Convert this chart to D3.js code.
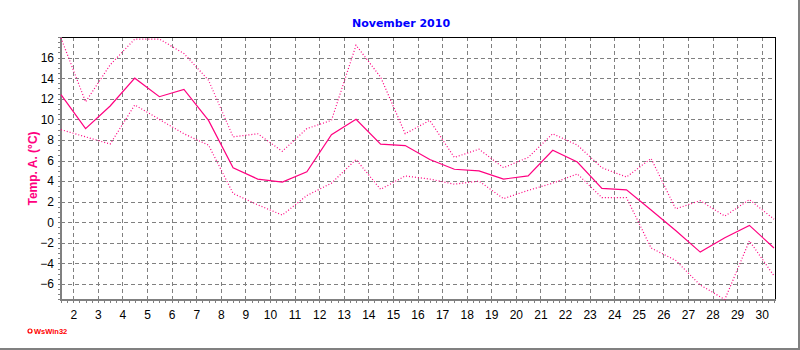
<!DOCTYPE html>
<html>
<head>
<meta charset="utf-8">
<script src="https://cdn.jsdelivr.net/npm/d3@7"></script>
<style>
  html, body { margin: 0; padding: 0; background: #fff; }
  svg { display: block; }
</style>
</head>
<body>
<div id="chart"></div>
<script>
// Daily air temperature, November 2010
const days = d3.range(1, 31);
const tempMax = [17.9, 11.7, 15.3, 17.8, 17.8, 16.4, 13.8, 8.3, 8.6, 6.9,
                 9.1, 9.9, 17.2, 14.1, 8.6, 9.9, 6.3, 7.1, 5.3, 6.3,
                 8.6, 7.5, 5.3, 4.4, 6.2, 1.3, 2.1, 0.6, 2.2, 0.3];
const tempMean = [12.4, 9.1, 11.3, 14.0, 12.2, 12.9, 9.9, 5.3, 4.2, 3.9,
                  4.9, 8.5, 10.0, 7.6, 7.45, 6.1, 5.15, 5.0, 4.2, 4.5,
                  7.0, 5.85, 3.3, 3.15, 1.2, -0.8, -2.9, -1.5, -0.3, -2.5];
const tempMin = [9.0, 8.3, 7.6, 11.4, 10.0, 8.6, 7.5, 2.8, 1.7, 0.7,
                 2.6, 3.8, 6.1, 3.2, 4.5, 4.2, 3.7, 4.0, 2.3, 3.1,
                 3.8, 4.7, 2.4, 2.4, -2.5, -3.7, -6.1, -7.5, -1.8, -5.2];
const yTicks = [-6, -4, -2, 0, 2, 4, 6, 8, 10, 12, 14, 16];
const xTicks = d3.range(2, 31);

const W = 800, H = 350;
const pL = 61, pR = 775, pT = 37, pB = 300;
const lineColor = "#ff0080";

const svg = d3.select("#chart").append("svg")
  .attr("width", W).attr("height", H);

// outer frame shadow (right / bottom)
svg.append("line").attr("x1", 0).attr("x2", W).attr("y1", H - 1).attr("y2", H - 1)
  .attr("stroke", "#808080").attr("stroke-width", 2);
svg.append("line").attr("x1", W - 1).attr("x2", W - 1).attr("y1", 0).attr("y2", H)
  .attr("stroke", "#808080").attr("stroke-width", 2);

// each daily value sits at midday
const x = d3.scaleLinear().domain([1.5, 30.5]).range([pL, pR - 1]);
const y = d3.scaleLinear().domain([-7.55, 18]).range([pB, pT]);

// grid
const grid = svg.append("g").attr("stroke", "#808080").attr("stroke-dasharray", "4,3")
  .attr("shape-rendering", "crispEdges");
grid.selectAll("line.v").data(xTicks).join("line").attr("class", "v")
  .attr("x1", d => Math.round(x(d)) + 0.5).attr("x2", d => Math.round(x(d)) + 0.5)
  .attr("y1", pT).attr("y2", pB);
grid.selectAll("line.h").data(yTicks).join("line").attr("class", "h")
  .attr("x1", pL).attr("x2", pR)
  .attr("y1", d => Math.round(y(d)) + 0.5).attr("y2", d => Math.round(y(d)) + 0.5);

// top and right border
svg.append("path")
  .attr("d", `M${pL},${pT + 0.5}H${pR + 0.5}V${pB}`)
  .attr("fill", "none").attr("stroke", "#000").attr("stroke-width", 1.5)
  .attr("shape-rendering", "crispEdges");

// minor ticks
const minorX = d3.range(1.5, 30.51, 0.25);
svg.append("g").selectAll("line").data(minorX).join("line")
  .attr("x1", d => Math.round(x(d)) + 0.5).attr("x2", d => Math.round(x(d)) + 0.5)
  .attr("y1", pB).attr("y2", pB + 3)
  .attr("stroke", "#808080").attr("shape-rendering", "crispEdges");
const minorY = d3.range(-7.5, 18.01, 0.5);
svg.append("g").selectAll("line").data(minorY).join("line")
  .attr("x1", pL - 3).attr("x2", pL)
  .attr("y1", d => Math.round(y(d)) + 0.5).attr("y2", d => Math.round(y(d)) + 0.5)
  .attr("stroke", "#808080").attr("shape-rendering", "crispEdges");

// axes
const yAxis = svg.append("g").attr("transform", `translate(${pL},0)`)
  .call(d3.axisLeft(y).tickValues(yTicks).tickSize(0).tickPadding(7).tickFormat(d3.format("d")));
yAxis.select(".domain").remove();
yAxis.selectAll("text").attr("font-family", "Arial, 'Liberation Sans', sans-serif")
  .attr("font-size", 12).attr("fill", "#000");

const xAxis = svg.append("g").attr("transform", `translate(0,${pB})`)
  .call(d3.axisBottom(x).tickValues(xTicks).tickSize(0).tickPadding(10).tickFormat(d3.format("d")));
xAxis.select(".domain").remove();
xAxis.selectAll("text").attr("font-family", "Arial, 'Liberation Sans', sans-serif")
  .attr("font-size", 12).attr("fill", "#000");

svg.append("line").attr("x1", pL).attr("x2", pL).attr("y1", pT).attr("y2", pB + 1)
  .attr("stroke", "#808080").attr("stroke-width", 2);
svg.append("line").attr("x1", pL - 1).attr("x2", pR + 1).attr("y1", pB).attr("y2", pB)
  .attr("stroke", "#808080").attr("stroke-width", 2);

// series
const line = d3.line().x((d, i) => x(days[i] + 0.5)).y(d => y(d));
svg.append("path").datum(tempMax).attr("d", line)
  .attr("fill", "none").attr("stroke", lineColor).attr("stroke-width", 1.2)
  .attr("stroke-dasharray", "1,2");
svg.append("path").datum(tempMin).attr("d", line)
  .attr("fill", "none").attr("stroke", lineColor).attr("stroke-width", 1.2)
  .attr("stroke-dasharray", "1,2");
svg.append("path").datum(tempMean).attr("d", line)
  .attr("fill", "none").attr("stroke", lineColor).attr("stroke-width", 1.2);

// title
svg.append("text").attr("x", 401).attr("y", 27).attr("text-anchor", "middle")
  .attr("font-family", "Verdana, 'DejaVu Sans', sans-serif").attr("font-weight", "bold")
  .attr("font-size", 11).attr("fill", "#0000ff").text("November 2010");

// y-axis title
svg.append("text").attr("transform", `translate(37,${(pT + pB) / 2}) rotate(-90)`)
  .attr("text-anchor", "middle")
  .attr("font-family", "Arial, 'Liberation Sans', sans-serif").attr("font-weight", "bold")
  .attr("font-size", 12).attr("fill", lineColor).text("Temp. A. (°C)");

// program mark
svg.append("circle").attr("cx", 30).attr("cy", 331).attr("r", 2)
  .attr("fill", "none").attr("stroke", "#ff0000").attr("stroke-width", 1.2);
svg.append("text").attr("x", 34).attr("y", 334)
  .attr("font-family", "Arial, 'Liberation Sans', sans-serif").attr("font-weight", "bold")
  .attr("font-size", 7.5).attr("fill", "#ff0000").text("WsWin32");
</script>
</body>
</html>
